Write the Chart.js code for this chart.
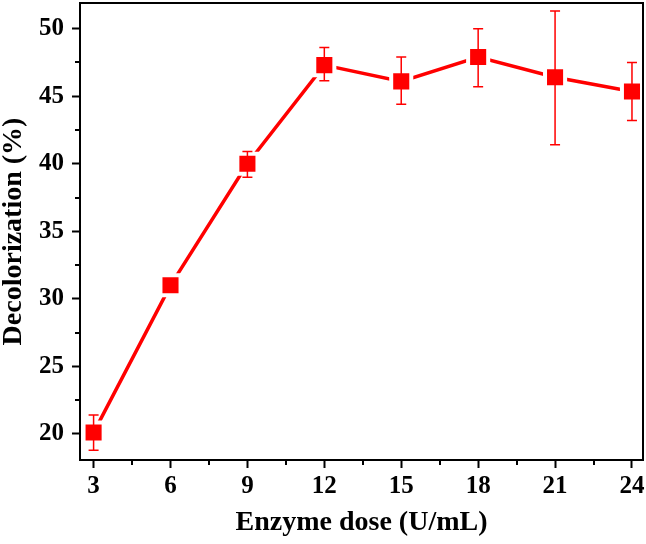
<!DOCTYPE html>
<html>
<head>
<meta charset="utf-8">
<script src="https://cdn.jsdelivr.net/npm/chart.js@4"></script>
<style>
html,body{margin:0;padding:0;background:#fff}
#wrap{width:646px;height:544px}
</style>
</head>
<body>
<div id="wrap"><canvas id="chart" width="646" height="544"></canvas></div>
<script>
// enzyme dose (U/mL)
const doses=[3,6,9,12,15,18,21,24]
// decolorization (%)
const decol=[20.1,31.0,40.0,47.3,46.1,47.9,46.4,45.35]
const errLow=[18.8,30.7,39.0,46.15,44.4,45.7,41.4,43.2]
const errHigh=[21.4,31.3,40.9,48.6,47.9,50.0,51.3,47.5]

const xMajor=[3,6,9,12,15,18,21,24]
const xMinor=[4.5,7.5,10.5,13.5,16.5,19.5,22.5]
const yMajor=[20,25,30,35,40,45,50]
const yMinor=[22.5,27.5,32.5,37.5,42.5,47.5]

const tickFont={family:"'Liberation Serif','Times New Roman',serif",weight:"bold",size:25}
const titleFont={family:"'Liberation Serif','Times New Roman',serif",weight:"bold",size:28,lineHeight:1}

const extras={
id:"extras",
afterDatasetsDraw(chart){
const ctx=chart.ctx
const xs=chart.scales.x, ys=chart.scales.y
ctx.save()
// error bars
ctx.strokeStyle="#ff0000"
ctx.lineWidth=1.5
doses.forEach((d,i)=>{
let px=xs.getPixelForValue(d)
let lo=ys.getPixelForValue(errLow[i])
let hi=ys.getPixelForValue(errHigh[i])
ctx.beginPath()
ctx.moveTo(px,lo);ctx.lineTo(px,hi)
ctx.moveTo(px-5,lo);ctx.lineTo(px+5,lo)
ctx.moveTo(px-5,hi);ctx.lineTo(px+5,hi)
ctx.stroke()
})
// frame and minor ticks
const a=chart.chartArea
ctx.strokeStyle="#000"
ctx.lineWidth=2
ctx.strokeRect(a.left,a.top,a.right-a.left,a.bottom-a.top)
ctx.beginPath()
xMinor.forEach(v=>{
let px=Math.round(xs.getPixelForValue(v))
ctx.moveTo(px,a.bottom);ctx.lineTo(px,a.bottom+5)
})
yMinor.forEach(v=>{
let py=Math.round(ys.getPixelForValue(v))
ctx.moveTo(a.left,py);ctx.lineTo(a.left-5,py)
})
ctx.stroke()
ctx.restore()
}
}

function noPad(s){
s.paddingLeft=0;s.paddingRight=0;s.paddingTop=0;s.paddingBottom=0
}

new Chart(document.getElementById("chart"),{
type:"line",
data:{
datasets:[{
data:doses.map((d,i)=>({x:d,y:decol[i]})),
borderColor:"#ff0000",
borderWidth:3.5,
backgroundColor:"#ff0000",
pointStyle:"rect",
pointRadius:14.2,
pointBorderColor:"#ffffff",
pointBorderWidth:4,
pointBackgroundColor:"#ff0000",
tension:0
}]
},
options:{
responsive:false,
animation:false,
layout:{autoPadding:false,padding:{top:3,right:3,left:0,bottom:0}},
plugins:{legend:{display:false},tooltip:{enabled:false}},
scales:{
x:{
type:"linear",
min:2.47,max:24.43,
afterBuildTicks:s=>{s.ticks=xMajor.map(v=>({value:v}))},
afterFit:s=>{s.height=84;noPad(s)},
ticks:{color:"#000",font:tickFont,padding:4,maxRotation:0},
grid:{drawOnChartArea:false,tickLength:8,tickColor:"#000",tickWidth:2},
border:{color:"#000",width:2},
title:{display:true,text:"Enzyme dose (U/mL)",color:"#000",font:titleFont,padding:{top:0,bottom:7}}
},
y:{
type:"linear",
min:18.07,max:51.9,
afterBuildTicks:s=>{s.ticks=yMajor.map(v=>({value:v}))},
afterFit:s=>{s.width=80;noPad(s)},
ticks:{color:"#000",font:tickFont,padding:8},
grid:{drawOnChartArea:false,tickLength:8,tickColor:"#000",tickWidth:2},
border:{color:"#000",width:2},
title:{display:true,text:"Decolorization (%)",color:"#000",font:titleFont,padding:{bottom:0,top:0}}
}
}
},
plugins:[extras]
})
</script>
</body>
</html>
